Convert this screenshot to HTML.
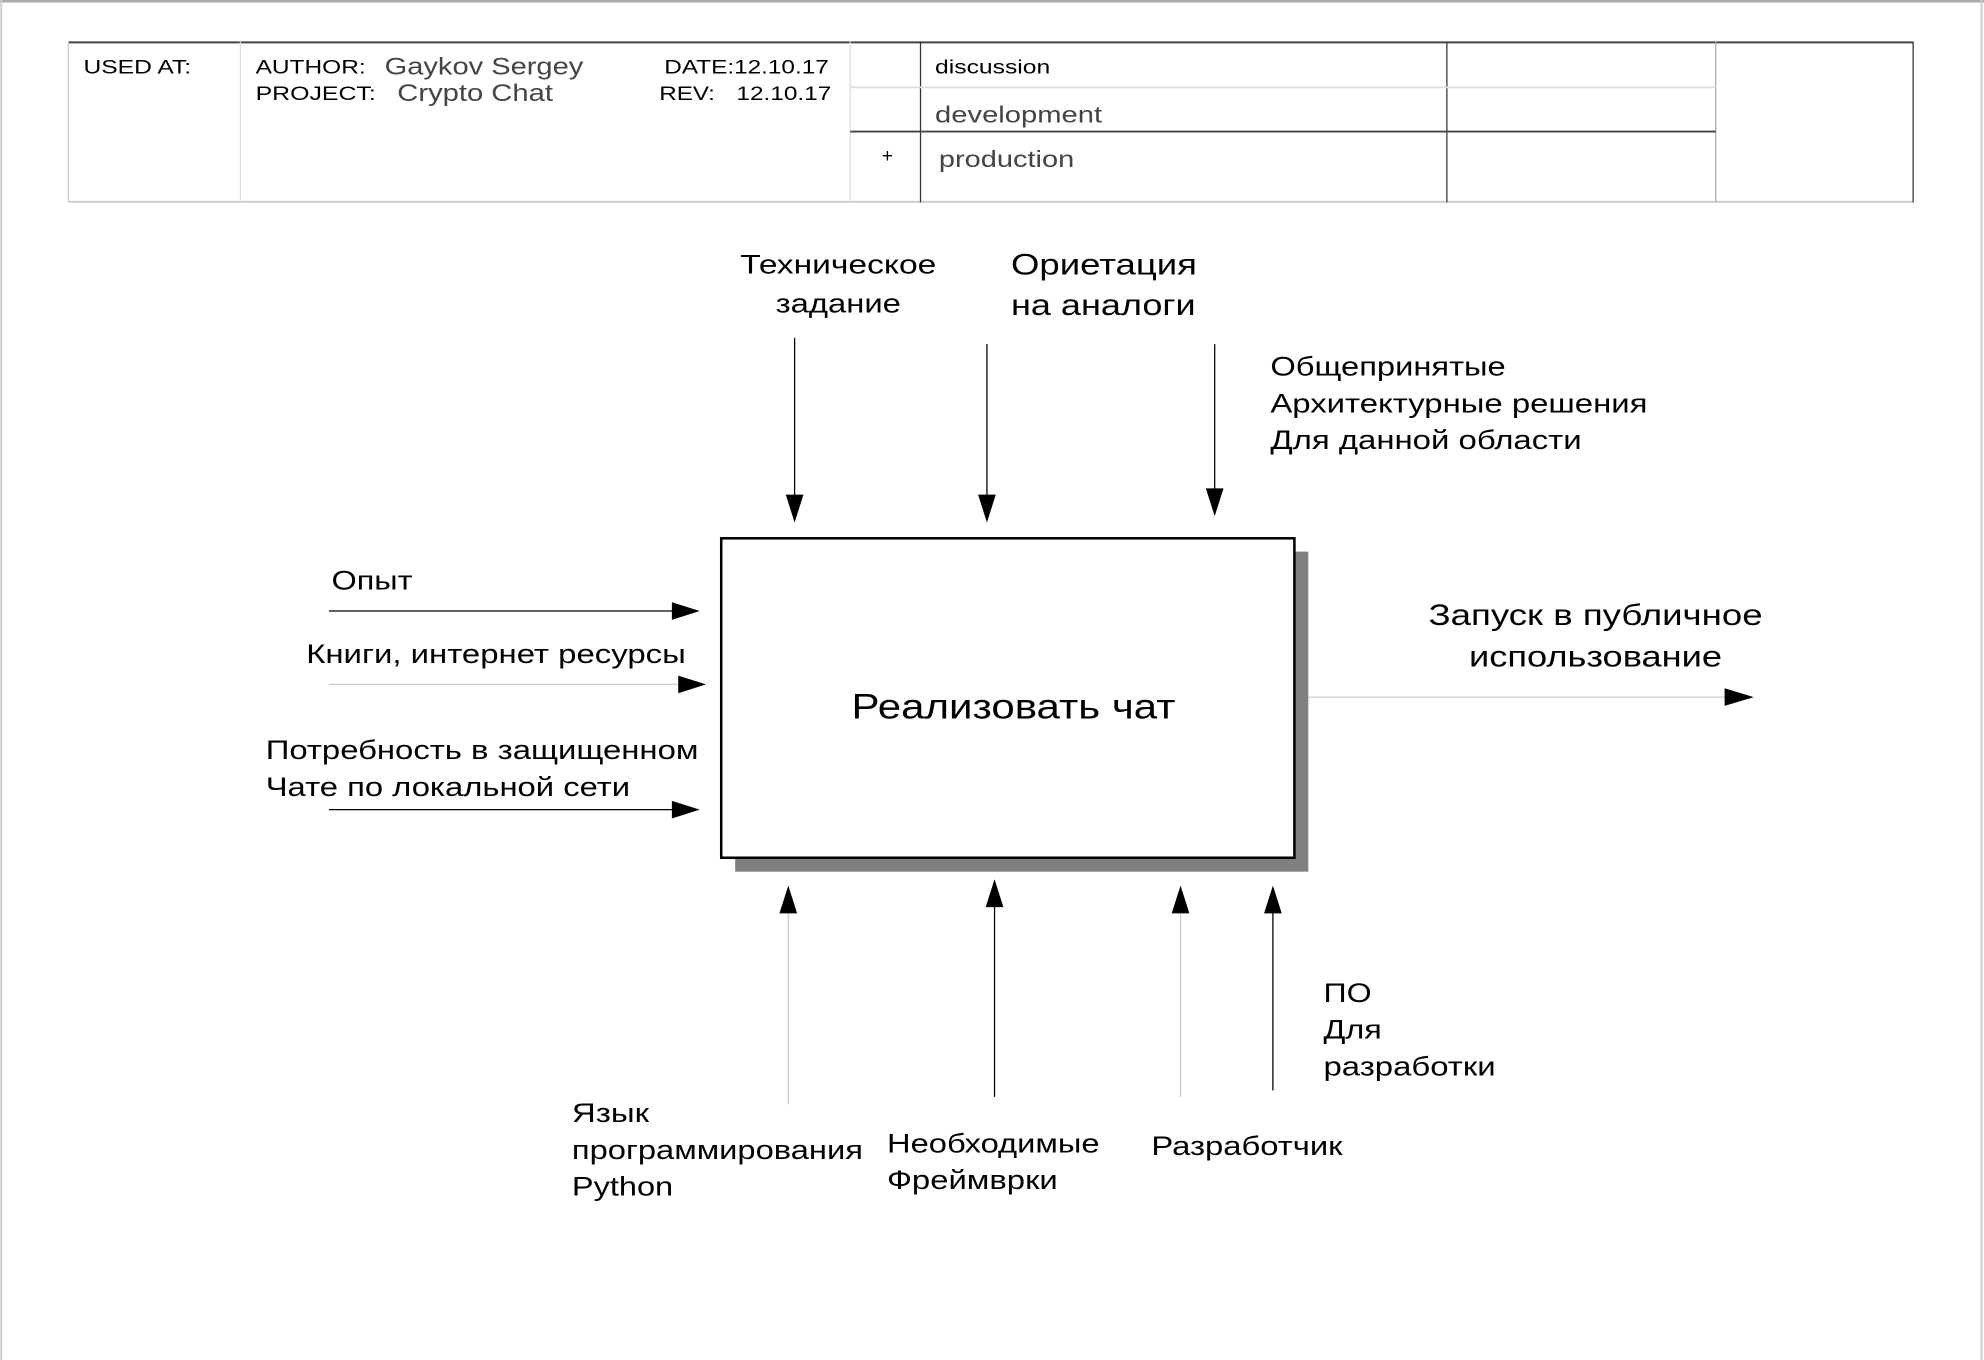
<!DOCTYPE html>
<html><head><meta charset="utf-8"><style>
html,body{margin:0;padding:0;background:#fff;}
svg{display:block;}
text{font-family:"Liberation Sans","DejaVu Sans",sans-serif;fill:#000;}
</style></head><body>
<svg width="1984" height="1360" viewBox="0 0 1568 1075" preserveAspectRatio="none" xmlns="http://www.w3.org/2000/svg">
<rect x="0" y="0" width="1568" height="1075" fill="#fff"/>
<line x1="0" y1="1" x2="1568" y2="1" stroke="#aaa" stroke-width="2"/>
<line x1="1" y1="0" x2="1" y2="1075" stroke="#ccc" stroke-width="1.5"/>
<line x1="1566" y1="0" x2="1566" y2="1075" stroke="#ccc" stroke-width="1.5"/>
<!-- header -->
<line x1="54" y1="33.5" x2="1512" y2="33.5" stroke="#444" stroke-width="1.5"/>
<line x1="54" y1="159.5" x2="1512" y2="159.5" stroke="#ccc" stroke-width="1.5"/>
<line x1="54" y1="33" x2="54" y2="160" stroke="#ccc"/>
<line x1="190" y1="33" x2="190" y2="160" stroke="#ddd"/>
<line x1="672" y1="33" x2="672" y2="160" stroke="#ddd"/>
<line x1="727.5" y1="33" x2="727.5" y2="160" stroke="#333"/>
<line x1="1143.5" y1="33" x2="1143.5" y2="160" stroke="#333"/>
<line x1="1356" y1="33" x2="1356" y2="160" stroke="#aaa"/>
<line x1="1512" y1="33" x2="1512" y2="160" stroke="#333"/>
<line x1="672" y1="69" x2="1356" y2="69" stroke="#ddd" stroke-width="1.5"/>
<line x1="672" y1="104" x2="1356" y2="104" stroke="#444" stroke-width="1.5"/>
<g lengthAdjust="spacingAndGlyphs">
<text x="66" y="58" font-size="15" textLength="85" lengthAdjust="spacingAndGlyphs">USED AT:</text>
<text x="202" y="58" font-size="15" textLength="87" lengthAdjust="spacingAndGlyphs">AUTHOR:</text>
<text x="304" y="59" font-size="19" style="fill:#444" textLength="157" lengthAdjust="spacingAndGlyphs">Gaykov Sergey</text>
<text x="525" y="58" font-size="15" textLength="130" lengthAdjust="spacingAndGlyphs">DATE:12.10.17</text>
<text x="202" y="79" font-size="15" textLength="95" lengthAdjust="spacingAndGlyphs">PROJECT:</text>
<text x="314" y="80" font-size="19" style="fill:#444" textLength="123" lengthAdjust="spacingAndGlyphs">Crypto Chat</text>
<text x="521" y="79" font-size="15" textLength="44" lengthAdjust="spacingAndGlyphs">REV:</text>
<text x="582" y="79" font-size="15" textLength="75" lengthAdjust="spacingAndGlyphs">12.10.17</text>
<text x="739" y="58" font-size="15" textLength="91" lengthAdjust="spacingAndGlyphs">discussion</text>
<text x="739" y="97" font-size="18" style="fill:#444" textLength="132" lengthAdjust="spacingAndGlyphs">development</text>
<text x="697" y="128" font-size="15">+</text>
<text x="742" y="132" font-size="18" style="fill:#444" textLength="107" lengthAdjust="spacingAndGlyphs">production</text>
</g>
<!-- box -->
<rect x="581" y="436" width="453" height="253" fill="#808080"/>
<rect x="570" y="425.5" width="453" height="252.5" fill="#fff" stroke="#000" stroke-width="2"/>
<text x="673" y="568" font-size="28" textLength="256" lengthAdjust="spacingAndGlyphs">Реализовать чат</text>
<!-- top arrows -->
<g stroke="#000" stroke-width="1">
<line x1="628" y1="267" x2="628" y2="395"/>
<line x1="780" y1="272" x2="780" y2="395"/>
<line x1="960" y1="272" x2="960" y2="390"/>
</g>
<g fill="#000">
<polygon points="621,391 635,391 628,413"/>
<polygon points="773,391 787,391 780,413"/>
<polygon points="953,386 967,386 960,408"/>
</g>
<text x="585" y="216" font-size="21" textLength="155" lengthAdjust="spacingAndGlyphs">Техническое</text>
<text x="613" y="247" font-size="21" textLength="99" lengthAdjust="spacingAndGlyphs">задание</text>
<text x="799" y="217" font-size="23.5" textLength="147" lengthAdjust="spacingAndGlyphs">Ориетация</text>
<text x="799" y="249" font-size="23.5" textLength="146" lengthAdjust="spacingAndGlyphs">на аналоги</text>
<text x="1004" y="297" font-size="21" textLength="186" lengthAdjust="spacingAndGlyphs">Общепринятые</text>
<text x="1004" y="326" font-size="21" textLength="298" lengthAdjust="spacingAndGlyphs">Архитектурные решения</text>
<text x="1004" y="355" font-size="21" textLength="246" lengthAdjust="spacingAndGlyphs">Для данной области</text>
<!-- left arrows -->
<line x1="260" y1="483" x2="535" y2="483" stroke="#000"/>
<line x1="260" y1="541" x2="540" y2="541" stroke="#ccc"/>
<line x1="260" y1="640" x2="535" y2="640" stroke="#000"/>
<polygon points="531,476 531,490 553,483" fill="#000"/>
<polygon points="536,534 536,548 558,541" fill="#000"/>
<polygon points="531,633 531,647 553,640" fill="#000"/>
<text x="262" y="466" font-size="21" textLength="64" lengthAdjust="spacingAndGlyphs">Опыт</text>
<text x="242" y="524" font-size="21" textLength="300" lengthAdjust="spacingAndGlyphs">Книги, интернет ресурсы</text>
<text x="210" y="600" font-size="21" textLength="342" lengthAdjust="spacingAndGlyphs">Потребность в защищенном</text>
<text x="210" y="629" font-size="21" textLength="288" lengthAdjust="spacingAndGlyphs">Чате по локальной сети</text>
<!-- output -->
<line x1="1034" y1="551" x2="1365" y2="551" stroke="#ccc"/>
<polygon points="1363,544 1363,558 1386,551" fill="#000"/>
<text x="1129" y="494" font-size="23.5" textLength="264" lengthAdjust="spacingAndGlyphs">Запуск в публичное</text>
<text x="1161" y="527" font-size="23.5" textLength="200" lengthAdjust="spacingAndGlyphs">использование</text>
<!-- bottom arrows -->
<line x1="623" y1="873" x2="623" y2="718" stroke="#ccc"/>
<line x1="786" y1="867" x2="786" y2="712" stroke="#000"/>
<line x1="933" y1="867" x2="933" y2="718" stroke="#ccc"/>
<line x1="1006" y1="862" x2="1006" y2="718" stroke="#000"/>
<polygon points="616,722 630,722 623,700" fill="#000"/>
<polygon points="779,717 793,717 786,695" fill="#000"/>
<polygon points="926,722 940,722 933,700" fill="#000"/>
<polygon points="999,722 1013,722 1006,700" fill="#000"/>
<text x="452" y="887" font-size="21" textLength="61" lengthAdjust="spacingAndGlyphs">Язык</text>
<text x="452" y="916" font-size="21" textLength="230" lengthAdjust="spacingAndGlyphs">программирования</text>
<text x="452" y="945" font-size="21" textLength="80" lengthAdjust="spacingAndGlyphs">Python</text>
<text x="701" y="911" font-size="21" textLength="168" lengthAdjust="spacingAndGlyphs">Необходимые</text>
<text x="701" y="940" font-size="21" textLength="135" lengthAdjust="spacingAndGlyphs">Фреймврки</text>
<text x="910" y="913" font-size="21" textLength="151" lengthAdjust="spacingAndGlyphs">Разработчик</text>
<text x="1046" y="792" font-size="21" textLength="38" lengthAdjust="spacingAndGlyphs">ПО</text>
<text x="1046" y="821" font-size="21" textLength="46" lengthAdjust="spacingAndGlyphs">Для</text>
<text x="1046" y="850" font-size="21" textLength="136" lengthAdjust="spacingAndGlyphs">разработки</text>
</svg>
</body></html>
